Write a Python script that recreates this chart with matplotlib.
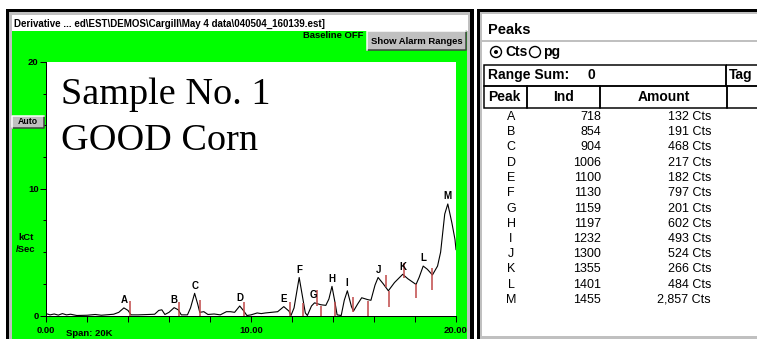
import numpy as np
import matplotlib
matplotlib.use('Agg')
import matplotlib.pyplot as plt
from matplotlib.patches import Rectangle, Circle

W, H = 757, 339

# ---------------- trace (x = 0..20, y = kCt/Sec) ----------------
trace_x = [0.0, 0.2, 0.4, 0.6, 0.8, 1.0, 1.2, 1.5, 2.0, 2.4, 2.7, 3.0, 3.3, 3.55, 3.8, 4.0, 4.15,
           4.5, 5.0, 5.3, 5.5, 5.65, 5.8, 6.0, 6.25, 6.45, 6.6, 6.9, 7.05, 7.25, 7.4, 7.5, 7.7,
           7.9, 8.2, 8.5, 8.8, 9.0, 9.2, 9.45, 9.65, 9.8, 10.0, 10.3, 10.5, 10.7, 11.0, 11.3,
           11.6, 11.85, 11.95, 12.1, 12.35, 12.5, 12.65, 12.75, 12.95, 13.1, 13.4, 13.65, 13.8,
           13.95, 14.1, 14.2, 14.4, 14.55, 14.7, 14.9, 15.0, 15.2, 15.4, 15.7, 15.85, 16.05,
           16.2, 16.45, 16.7, 17.0, 17.4, 17.65, 18.05, 18.2, 18.4, 18.6, 18.85, 19.1, 19.25,
           19.45, 19.6, 19.8, 19.95, 20.0]
trace_y = [0.15, 0.05, 0.12, 0.03, 0.15, 0.05, 0.1, 0.0, 0.02, 0.08, 0.02, 0.06, 0.1, 0.25, 0.6,
           0.4, 0.05, 0.05, 0.08, 0.1, 0.4, 0.45, 0.08, 0.25, 0.62, 0.45, 0.05, 0.05, 0.6, 1.75,
           0.9, 0.25, 0.3, 0.08, 0.12, 0.05, 0.3, 0.3, 0.25, 0.75, 0.35, 0.0, 0.05, 0.2, 0.15,
           0.2, 0.25, 0.3, 0.7, 0.35, 0.0, 0.6, 3.0, 1.6, 0.2, 0.0, 0.75, 1.0, 0.85, 0.8, 1.3,
           2.3, 1.0, 0.05, 0.0, 1.2, 1.95, 0.7, 0.35, 0.9, 1.4, 1.25, 1.2, 2.4, 3.0, 2.5, 1.95,
           2.6, 3.25, 2.9, 2.45, 3.0, 3.9, 3.65, 3.2, 3.9, 5.0, 8.0, 8.8, 7.3, 6.0, 5.2]

# peak labels on the trace
peak_names = ['A', 'B', 'C', 'D', 'E', 'F', 'G', 'H', 'I', 'J', 'K', 'L', 'M']
peak_x = [3.8, 6.25, 7.25, 9.45, 11.6, 12.35, 13.05, 13.95, 14.65, 16.2, 17.4, 18.4, 19.6]
peak_y = [0.6, 0.62, 1.75, 0.75, 0.7, 3.0, 1.0, 2.3, 1.95, 3.0, 3.25, 3.9, 8.8]

# red tag marks (x, bottom, top)
mark_x = [4.1, 6.5, 7.51, 9.67, 11.9, 12.52, 13.24, 13.4, 14.11, 14.96, 15.7, 16.57, 16.73,
          17.46, 18.05, 18.83]
mark_lo = [0, 0, 0, 0, 0, 0, 0.75, 0, 0, 0.3, 0, 2.23, 0.7, 2.96, 1.36, 2.02]
mark_hi = [1.17, 1.09, 1.22, 1.07, 1.07, 1.0, 2.0, 0.75, 1.07, 1.49, 1.17, 3.2, 1.94, 4.15,
           2.49, 3.75]

# peaks table
peak_ind = [718, 854, 904, 1006, 1100, 1130, 1159, 1197, 1232, 1300, 1355, 1401, 1455]
peak_amount = [132, 191, 468, 217, 182, 797, 201, 602, 493, 524, 266, 484, 2857]

x_ticks = [0, 2, 4, 6, 8, 10, 12, 14, 16, 18, 20]
x_tick_labels = ['0.00', '', '', '', '', '10.00', '', '', '', '', '20.00']
y_ticks = [0, 10, 20]
y_tick_labels = ['0', '10', '20']

title = r'Derivative ... ed\EST\DEMOS\Cargill\May 4 data\040504_160139.est]'

UI = 'Liberation Sans'
GREEN = '#00ff00'
GREY = '#c0c0c0'
PX = 0.72   # one pixel in points

fig = plt.figure(figsize=(W / 100, H / 100), dpi=100)
fig.patch.set_facecolor('white')

# background layer in pixel coordinates (y down)
ui = fig.add_axes([0, 0, 1, 1], zorder=0)
ui.set_xlim(0, W)
ui.set_ylim(H, 0)
ui.axis('off')

# top layer for texts, same coordinates
top = fig.add_axes([0, 0, 1, 1], zorder=3)
top.set_xlim(0, W)
top.set_ylim(H, 0)
top.axis('off')
top.patch.set_alpha(0)


def box(x0, y0, x1, y1, fc, ec='none', lw=0.0, z=1, ax=ui):
    ax.add_patch(Rectangle((x0, y0), x1 - x0, y1 - y0, facecolor=fc, edgecolor=ec,
                           linewidth=lw * PX, zorder=z))


def button(x0, y0, x1, y1, ax=ui):
    box(x0, y0, x1, y1, GREY, z=3, ax=ax)
    ax.plot([x0, x1, x1], [y1, y1, y0], color='#404040', lw=1.5 * PX, zorder=4)
    ax.plot([x0, x0, x1], [y1, y0, y0], color='white', lw=1.5 * PX, zorder=4)


# ---- left window frame
box(6, 9, 474, H + 1, 'black')
box(9, 12, 470, H + 1, GREY, z=2)
box(12, 15, 468, 31, 'white', z=3)
box(12, 31, 467, H + 1, GREEN, z=3)
top.text(14, 24, title, fontsize=7, fontweight='bold', family=UI, va='center', ha='left')
top.text(363, 36, 'Baseline OFF', fontsize=6.8, fontweight='bold', family=UI, va='center',
         ha='right')
button(367, 31, 466, 50, ax=top)
top.text(416.5, 41, 'Show Alarm Ranges', fontsize=6.8, fontweight='bold', family=UI,
         va='center', ha='center', zorder=5)
button(12, 116, 44, 128, ax=top)
top.text(28, 122, 'Auto', fontsize=6.3, fontweight='bold', family=UI, va='center',
         ha='center', zorder=5)
top.text(26, 237, 'kCt', fontsize=6.8, fontweight='bold', family=UI, va='center', ha='center')
top.text(26, 250, '/Sec', fontsize=6.8, fontweight='bold', family=UI, va='center', ha='center')
top.text(66, 333, 'Span: 20K', fontsize=6.8, fontweight='bold', family=UI, va='center',
         ha='left')
top.text(61, 104, 'Sample No. 1', fontsize=27.5, family='Liberation Serif', va='baseline')
top.text(61, 150, 'GOOD Corn', fontsize=27.5, family='Liberation Serif', va='baseline')

# ---- chart
ax = fig.add_axes([46 / W, (H - 315.5) / H, 410 / W, 253.5 / H], zorder=2)
ax.set_facecolor('white')
ax.plot(trace_x, trace_y, color='black', lw=0.8)
ax.vlines(mark_x, mark_lo, mark_hi, color='#c04848', lw=1.1)
for n, x, y in zip(peak_names, peak_x, peak_y):
    ax.annotate(n, (x, y), xytext=(0, 2), textcoords='offset points', ha='center',
                va='bottom', fontsize=7, fontweight='bold', family=UI)
ax.set_xlim(0, 20)
ax.set_ylim(0, 20)
for s in ['top', 'right']:
    ax.spines[s].set_visible(False)
for s in ['left', 'bottom']:
    ax.spines[s].set_linewidth(1 * PX)
ax.set_xticks(x_ticks)
ax.set_xticklabels(x_tick_labels)
ax.set_yticks(y_ticks)
ax.set_yticklabels(y_tick_labels)
ax.set_yticks(np.arange(0, 20.1, 2.5), minor=True)
ax.tick_params(axis='x', length=6 * PX, width=PX, pad=3.5, direction='out')
ax.tick_params(axis='y', which='major', length=6 * PX, width=PX, pad=1)
ax.tick_params(axis='y', which='minor', length=3 * PX, width=PX)
for lab in ax.get_xticklabels() + ax.get_yticklabels():
    lab.set_fontsize(6.8)
    lab.set_fontweight('bold')
    lab.set_family(UI)

# ---- right window: peaks table
box(477, 9, W + 1, H + 1, 'black')
box(480, 12, W + 1, H + 1, GREY, z=2)
box(482, 14, W + 1, 336, 'white', z=3)
ui.plot([482, W], [41, 41], color=GREY, lw=2 * PX, zorder=4)
top.text(488, 30, 'Peaks', fontsize=10.5, fontweight='bold', family=UI, va='center')
top.add_patch(Circle((496, 52), 5.5, facecolor='white', edgecolor='black', lw=1.4 * PX))
top.add_patch(Circle((496, 52), 2, facecolor='black', edgecolor='none'))
top.text(505, 52, 'Cts', fontsize=10, fontweight='bold', family=UI, va='center')
top.add_patch(Circle((535, 52), 5.5, facecolor='white', edgecolor='black', lw=1.4 * PX))
top.text(543, 52, 'pg', fontsize=10, fontweight='bold', family=UI, va='center')

box(484, 65, 726, 86, 'none', 'black', 1.5, z=5)
box(726, 65, W + 5, 86, 'none', 'black', 1.5, z=5)
top.text(488, 75, 'Range Sum:', fontsize=10, fontweight='bold', family=UI, va='center')
top.text(588, 75, '0', fontsize=10, fontweight='bold', family=UI, va='center')
top.text(729, 75, 'Tag', fontsize=10, fontweight='bold', family=UI, va='center')
col_edges = [484, 527, 600, 727, W + 5]
col_heads = ['Peak', 'Ind', 'Amount', '']
for i, head in enumerate(col_heads):
    box(col_edges[i], 86, col_edges[i + 1], 108, 'none', 'black', 1.5, z=5)
    top.text((col_edges[i] + col_edges[i + 1]) / 2 if head != 'Peak' else 488, 97, head,
             fontsize=10, fontweight='bold', family=UI, va='center',
             ha='center' if head != 'Peak' else 'left')

for i in range(len(peak_names)):
    yy = 117 + 15.25 * i
    top.text(511, yy, peak_names[i], fontsize=9, family=UI, va='center', ha='center')
    top.text(601, yy, str(peak_ind[i]), fontsize=9, family=UI, va='center', ha='right')
    top.text(711, yy, f'{peak_amount[i]:,} Cts', fontsize=9, family=UI, va='center', ha='right')

fig.savefig('out.png', dpi=100)
